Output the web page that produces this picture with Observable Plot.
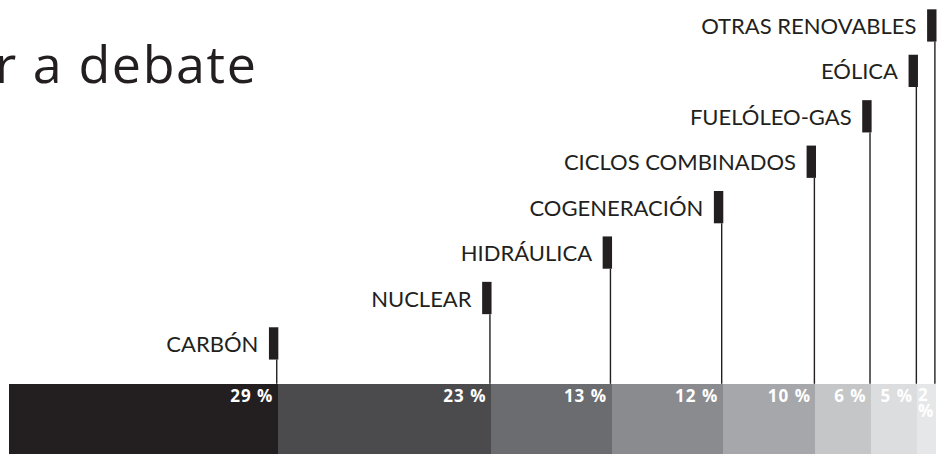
<!DOCTYPE html>
<html>
<head>
<meta charset="utf-8">
<script src="https://cdn.jsdelivr.net/npm/d3@7"></script>
<script src="https://cdn.jsdelivr.net/npm/@observablehq/plot@0.6"></script>
<style>
  html, body { margin: 0; padding: 0; background: #fff; }
  svg { display: block; }
</style>
</head>
<body>
<div id="chart"></div>
<script>
// ---- data ----
const titleText = "r a debate";
const categories = ["CARBÓN", "NUCLEAR", "HIDRÁULICA", "COGENERACIÓN", "CICLOS COMBINADOS", "FUELÓLEO-GAS", "EÓLICA", "OTRAS RENOVABLES"];
const shares = [29, 23, 13, 12, 10, 6, 5, 2];
const shareLabels = ["29 %", "23 %", "13 %", "12 %", "10 %", "6 %", "5 %", "2\n%"];
const segmentColors = ["#231f20", "#4b4b4d", "#6b6c6f", "#8a8b8e", "#a6a7aa", "#c5c6c8", "#dcdddf", "#e6e7e8"];

// ---- table ----
let acc = 0;
const rows = categories.map((c, i) => {
  const start = acc;
  acc += shares[i];
  return {category: c, share: shares[i], label: shareLabels[i], color: segmentColors[i], start, end: acc, level: i};
});

// vertical layout in "label level" units
const barTop = -1.245;
const barBottom = -2.79;
const markerH = 0.711;
const ink = "#231f20";

const chart = Plot.plot({
  width: 945,
  height: 454,
  margin: 0,
  x: {domain: [0, 100], range: [9, 936], axis: null},
  y: {domain: [barBottom, 7.205], range: [454, 0], axis: null},
  marks: [
    // stacked bar
    Plot.rect(rows, {x1: "start", x2: "end", y1: barBottom, y2: barTop, fill: "color", shapeRendering: "crispEdges"}),
    // leader lines
    Plot.ruleX(rows, {x: "end", y1: d => d.level - markerH, y2: barTop, stroke: ink, strokeWidth: 1.4, dx: -1.6}),
    // markers
    Plot.ruleX(rows, {x: "end", y1: d => d.level, y2: d => d.level - markerH, stroke: ink, strokeWidth: 9.4, dx: -4.7}),
    // category labels
    Plot.text(rows, {x: "end", y: d => d.level - markerH / 2, text: "category", textAnchor: "end", dx: -20, dy: 1,
      fontFamily: "Lato", fontSize: 22, fill: ink}),
    // share labels
    Plot.text(rows.filter(d => d.share > 2), {x: "end", y: barTop, text: "label", textAnchor: "end", lineAnchor: "top", dx: -5, dy: 6,
      fontFamily: "Open Sans", fontWeight: "bold", fontSize: 17, fill: "white"}),
    Plot.text(rows.filter(d => d.share <= 2), {x: "start", y: barTop, text: "label", textAnchor: "start", lineAnchor: "top", dx: 0, dy: 5,
      fontFamily: "Open Sans", fontWeight: "bold", fontSize: 17, fill: "white", lineHeight: 0.95}),
    // title
    Plot.text([titleText], {text: d => d, frameAnchor: "top-left", textAnchor: "end", lineAnchor: "top", dx: 257, dy: 46,
      fontFamily: "Open Sans", fontSize: 52, fill: ink})
  ]
});
const svg = d3.select(chart);
svg.selectAll("text").filter(function () { return this.textContent.includes("%"); }).style("letter-spacing", "1px");
svg.selectAll("text").filter(function () { return this.textContent === titleText; }).style("letter-spacing", "1.6px");
document.getElementById("chart").appendChild(chart);
</script>
</body>
</html>
